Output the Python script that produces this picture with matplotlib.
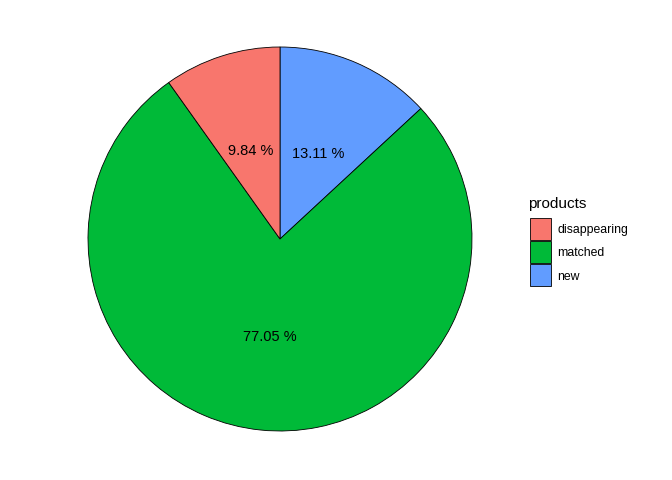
import matplotlib
matplotlib.use("Agg")
import matplotlib.pyplot as plt
from matplotlib.patches import Rectangle

plt.rcParams['font.family'] = ['Liberation Sans', 'DejaVu Sans']

# data (clockwise from 12 o'clock)
products = ["new", "matched", "disappearing"]
shares = [13.11, 77.05, 9.84]
colors = {"disappearing": "#F8766D", "matched": "#00BA38", "new": "#619CFF"}
legend_order = ["disappearing", "matched", "new"]

W, H = 672, 480
fig = plt.figure(figsize=(W / 100, H / 100), dpi=100)

# pie centred at (280, 239) px, radius 192 px
cx, cy, r = 280, 239, 192
ax = fig.add_axes([(cx - r) / W, (H - cy - r) / H, 2 * r / W, 2 * r / H])
wedges, texts = ax.pie(
    shares,
    colors=[colors[p] for p in products],
    startangle=90,
    counterclock=False,
    labels=[f"{s:.2f} %" for s in shares],
    labeldistance=0.5,
    wedgeprops=dict(edgecolor="black", linewidth=0.6),
    textprops=dict(fontsize=10.5, color="black", ha="center", va="center"),
)
# ggplot centres text a bit lower than matplotlib does
for t in texts:
    x, y = t.get_position()
    t.set_position((x, y - 3 / r))
ax.set_aspect("equal")
ax.set_xlim(-1, 1)
ax.set_ylim(-1, 1)
ax.axis("off")

# legend drawn by hand to match ggplot look
lax = fig.add_axes([0, 0, 1, 1], facecolor="none")
lax.set_xlim(0, W)
lax.set_ylim(H, 0)
lax.axis("off")
lax.text(528, 204, "products", fontsize=11, va="center", ha="left")
key_top = 218
key_h = 23
for i, name in enumerate(legend_order):
    y = key_top + i * key_h
    lax.add_patch(Rectangle((530, y), 21, 22, facecolor=colors[name],
                            edgecolor="black", linewidth=0.6))
    lax.text(557, y + 12.5, name, fontsize=8.8, va="center", ha="left")

fig.savefig("out.png", dpi=100)
